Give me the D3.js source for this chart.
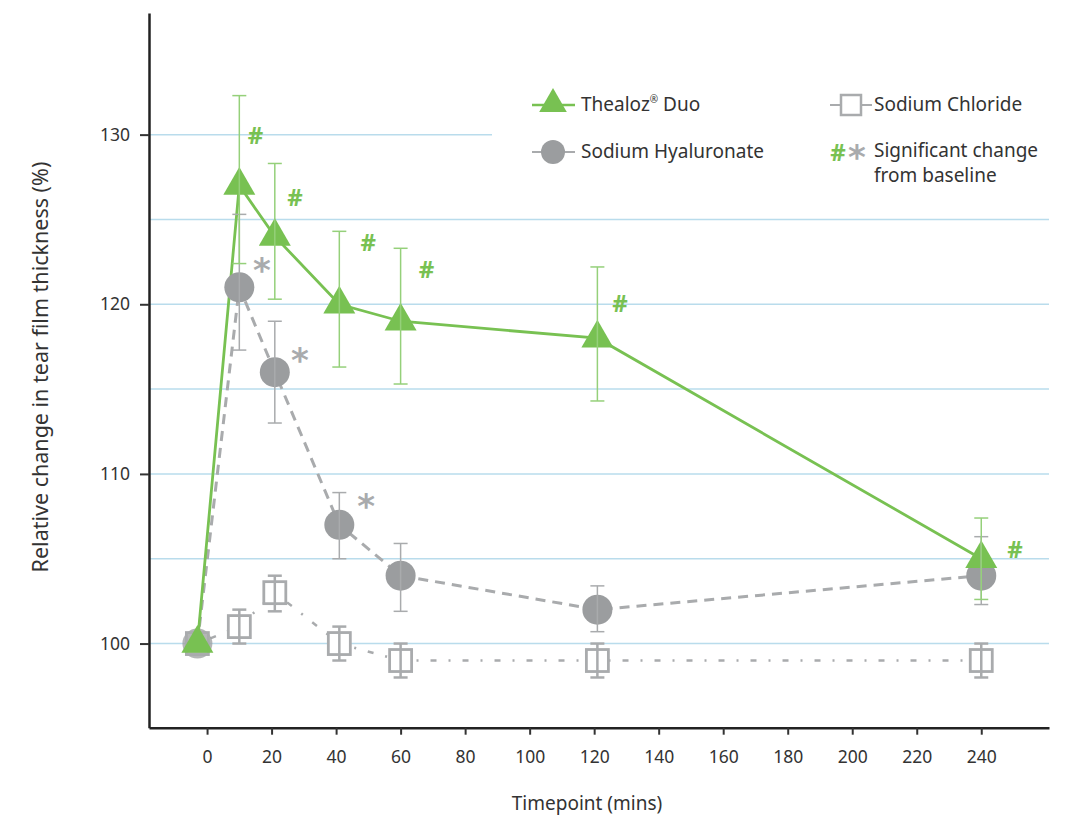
<!DOCTYPE html>
<html>
<head>
<meta charset="utf-8">
<script src="https://cdn.jsdelivr.net/npm/d3@7"></script>
<style>
  body { margin: 0; background: #fff; }
  svg { font-family: "Noto Sans", "Open Sans", sans-serif; }
</style>
</head>
<body>
<svg id="chart" width="1081" height="819"></svg>
<script>
// time points (mins), baseline sits slightly left of 0
const timepoints = [-3, 10, 21, 41, 60, 121, 240]
const xTicks = [0, 20, 40, 60, 80, 100, 120, 140, 160, 180, 200, 220, 240]
const yTicks = [100, 110, 120, 130]
const gridValues = [100, 105, 110, 115, 120, 125, 130]

const thealoz = [100, 127, 124, 120, 119, 118, 105]
const thealozUpper = [null, 132.3, 128.3, 124.3, 123.3, 122.2, 107.4]
const thealozLower = [null, 122.4, 120.3, 116.3, 115.3, 114.3, 102.6]

const hyaluronate = [100, 121, 116, 107, 104, 102, 104]
const hyaluronateUpper = [null, 125.3, 119, 108.9, 105.9, 103.4, 106.3]
const hyaluronateLower = [null, 117.3, 113, 105, 101.9, 100.7, 102.3]

const chloride = [100, 101, 103, 100, 99, 99, 99]
const chlorideUpper = [null, 102, 104, 101, 100, 100, 100]
const chlorideLower = [null, 100, 101.9, 99, 98, 98, 98]

// significance annotation anchors [time, value]
const hashMarks = [[15, 130], [27.3, 126.3], [50, 123.7], [68, 122.1], [128, 120.1], [250.5, 105.6]]
const starMarks = [[17, 122.3], [28.8, 117], [49.3, 108.4]]

const green = "#78c152"
const greenLight = "#95d07a"
const grey = "#9b9d9f"
const greyLight = "#a9abad"
const gridColor = "#b9dcec"
const textColor = "#333"
const font = "'Noto Sans', 'Open Sans', sans-serif"

const svg = d3.select("#chart")

const x = d3.scaleLinear().domain([-18, 261]).range([149, 1049])
const y = d3.scaleLinear().domain([95.04, 137.17]).range([727.7, 13])

/* gridlines - the 130 one stops short of the legend */
svg.append("g").selectAll("line")
  .data(gridValues)
  .enter().append("line")
    .attr("x1", x(-18)).attr("x2", d => d === 130 ? 492 : x(261))
    .attr("y1", d => y(d)).attr("y2", d => y(d))
    .attr("stroke", gridColor).attr("stroke-width", 1.5)

/* axes */
const xAxis = svg.append("g")
  .attr("transform", "translate(0," + y(95.04) + ")")
  .call(d3.axisBottom(x).tickValues(xTicks).tickSize(7).tickPadding(16).tickSizeOuter(0))
xAxis.select(".domain").attr("stroke", "#222").attr("stroke-width", 2.5)
xAxis.selectAll(".tick line").attr("stroke", "#333").attr("stroke-width", 2)
xAxis.selectAll("text").attr("font-size", 17.5).attr("fill", textColor).style("font-family", font)

const yAxis = svg.append("g")
  .attr("transform", "translate(" + x(-18) + ",0)")
  .call(d3.axisLeft(y).tickValues(yTicks).tickSize(9).tickPadding(10).tickSizeOuter(0))
yAxis.select(".domain").attr("stroke", "#222").attr("stroke-width", 2.5)
yAxis.selectAll(".tick line").attr("stroke", "#333").attr("stroke-width", 2)
yAxis.selectAll("text").attr("font-size", 17.5).attr("fill", textColor).style("font-family", font)

svg.append("text")
  .attr("x", 587).attr("y", 810)
  .attr("text-anchor", "middle").attr("font-size", 19).attr("fill", textColor)
  .text("Timepoint (mins)")

svg.append("text")
  .attr("transform", "translate(48,367) rotate(-90)")
  .attr("text-anchor", "middle").attr("font-size", 21.5).attr("fill", textColor)
  .text("Relative change in tear film thickness (%)")

const toPoints = vals => vals.map((v, i) => ({ t: timepoints[i], v: v, i: i }))

const line = d3.line().x(d => x(d.t)).y(d => y(d.v))

/* connecting lines */
svg.append("path").datum(toPoints(chloride))
  .attr("d", line).attr("fill", "none")
  .attr("stroke", greyLight).attr("stroke-width", 2.5)
  .attr("stroke-dasharray", "2,12,6,12")

svg.append("path").datum(toPoints(hyaluronate))
  .attr("d", line).attr("fill", "none")
  .attr("stroke", greyLight).attr("stroke-width", 3)
  .attr("stroke-dasharray", "10,7")

svg.append("path").datum(toPoints(thealoz))
  .attr("d", line).attr("fill", "none")
  .attr("stroke", green).attr("stroke-width", 2.8)

/* markers */
svg.append("g").selectAll("circle")
  .data(toPoints(hyaluronate))
  .enter().append("circle")
    .attr("cx", d => x(d.t)).attr("cy", d => y(d.v)).attr("r", 15)
    .attr("fill", grey)
    .attr("opacity", d => d.i === 0 ? 0.75 : 1)

svg.append("g").selectAll("rect")
  .data(toPoints(chloride))
  .enter().append("rect")
    .attr("x", d => x(d.t) - 11).attr("y", d => y(d.v) - 11)
    .attr("width", 22).attr("height", 22)
    .attr("fill", d => d.i === 0 ? "none" : "#fff")
    .attr("stroke", greyLight).attr("stroke-width", 2.8)

const triangle = d3.symbol().type(d3.symbolTriangle).size(443)
svg.append("g").selectAll("path")
  .data(toPoints(thealoz))
  .enter().append("path")
    .attr("d", triangle)
    .attr("transform", d => "translate(" + x(d.t) + "," + y(d.v) + ")")
    .attr("fill", green)

/* error bars, drawn over the markers */
function errorBars(upper, lower, color, width, cap) {
  const data = timepoints.map((t, i) => ({ t: t, hi: upper[i], lo: lower[i] })).filter(d => d.hi != null)
  const g = svg.append("g").attr("stroke", color).attr("stroke-width", width)
  g.selectAll(".v").data(data).enter().append("line")
    .attr("x1", d => x(d.t)).attr("x2", d => x(d.t))
    .attr("y1", d => y(d.hi)).attr("y2", d => y(d.lo))
  g.selectAll(".hi").data(data).enter().append("line")
    .attr("x1", d => x(d.t) - cap).attr("x2", d => x(d.t) + cap)
    .attr("y1", d => y(d.hi)).attr("y2", d => y(d.hi))
  g.selectAll(".lo").data(data).enter().append("line")
    .attr("x1", d => x(d.t) - cap).attr("x2", d => x(d.t) + cap)
    .attr("y1", d => y(d.lo)).attr("y2", d => y(d.lo))
}
errorBars(chlorideUpper, chlorideLower, greyLight, 2.5, 7)
errorBars(hyaluronateUpper, hyaluronateLower, greyLight, 1.5, 7)
errorBars(thealozUpper, thealozLower, greenLight, 1.5, 7)

/* significance marks */
svg.append("g").selectAll("text")
  .data(hashMarks)
  .enter().append("text")
    .attr("x", d => x(d[0])).attr("y", d => y(d[1]) + 9)
    .attr("text-anchor", "middle").attr("font-size", 24).attr("font-weight", "bold")
    .attr("fill", green).text("#")

svg.append("g").selectAll("text")
  .data(starMarks)
  .enter().append("text")
    .attr("x", d => x(d[0])).attr("y", d => y(d[1]) + 17)
    .attr("text-anchor", "middle").attr("font-size", 34).attr("font-weight", "bold")
    .style("font-family", "'DejaVu Sans', sans-serif")
    .attr("fill", greyLight).text("*")

/* legend */
const legend = svg.append("g").attr("font-size", 19).attr("fill", textColor)

legend.append("line").attr("x1", 532).attr("x2", 575).attr("y1", 105).attr("y2", 105)
  .attr("stroke", green).attr("stroke-width", 2.5)
legend.append("path").attr("d", d3.symbol().type(d3.symbolTriangle).size(330))
  .attr("transform", "translate(553,104)").attr("fill", green)
const t1 = legend.append("text").attr("x", 581).attr("y", 111)
t1.append("tspan").text("Thealoz")
t1.append("tspan").attr("font-size", 10).attr("dy", -8).text("®")
t1.append("tspan").attr("dy", 8).text(" Duo")

legend.append("line").attr("x1", 532).attr("x2", 575).attr("y1", 152).attr("y2", 152)
  .attr("stroke", greyLight).attr("stroke-width", 2)
legend.append("circle").attr("cx", 553).attr("cy", 152).attr("r", 12).attr("fill", grey)
legend.append("text").attr("x", 581).attr("y", 158).text("Sodium Hyaluronate")

legend.append("line").attr("x1", 830).attr("x2", 872).attr("y1", 105).attr("y2", 105)
  .attr("stroke", greyLight).attr("stroke-width", 2)
legend.append("rect").attr("x", 841).attr("y", 95).attr("width", 20).attr("height", 20)
  .attr("fill", "#fff").attr("stroke", greyLight).attr("stroke-width", 2.5)
legend.append("text").attr("x", 874).attr("y", 111).text("Sodium Chloride")

legend.append("text").attr("x", 838).attr("y", 161).attr("text-anchor", "middle")
  .attr("font-size", 24).attr("font-weight", "bold").attr("fill", green).text("#")
legend.append("text").attr("x", 857).attr("y", 169).attr("text-anchor", "middle")
  .attr("font-size", 34).attr("font-weight", "bold")
  .style("font-family", "'DejaVu Sans', sans-serif")
  .attr("fill", greyLight).text("*")
legend.append("text").attr("x", 874).attr("y", 157).text("Significant change")
legend.append("text").attr("x", 874).attr("y", 182).text("from baseline")
</script>
</body>
</html>
